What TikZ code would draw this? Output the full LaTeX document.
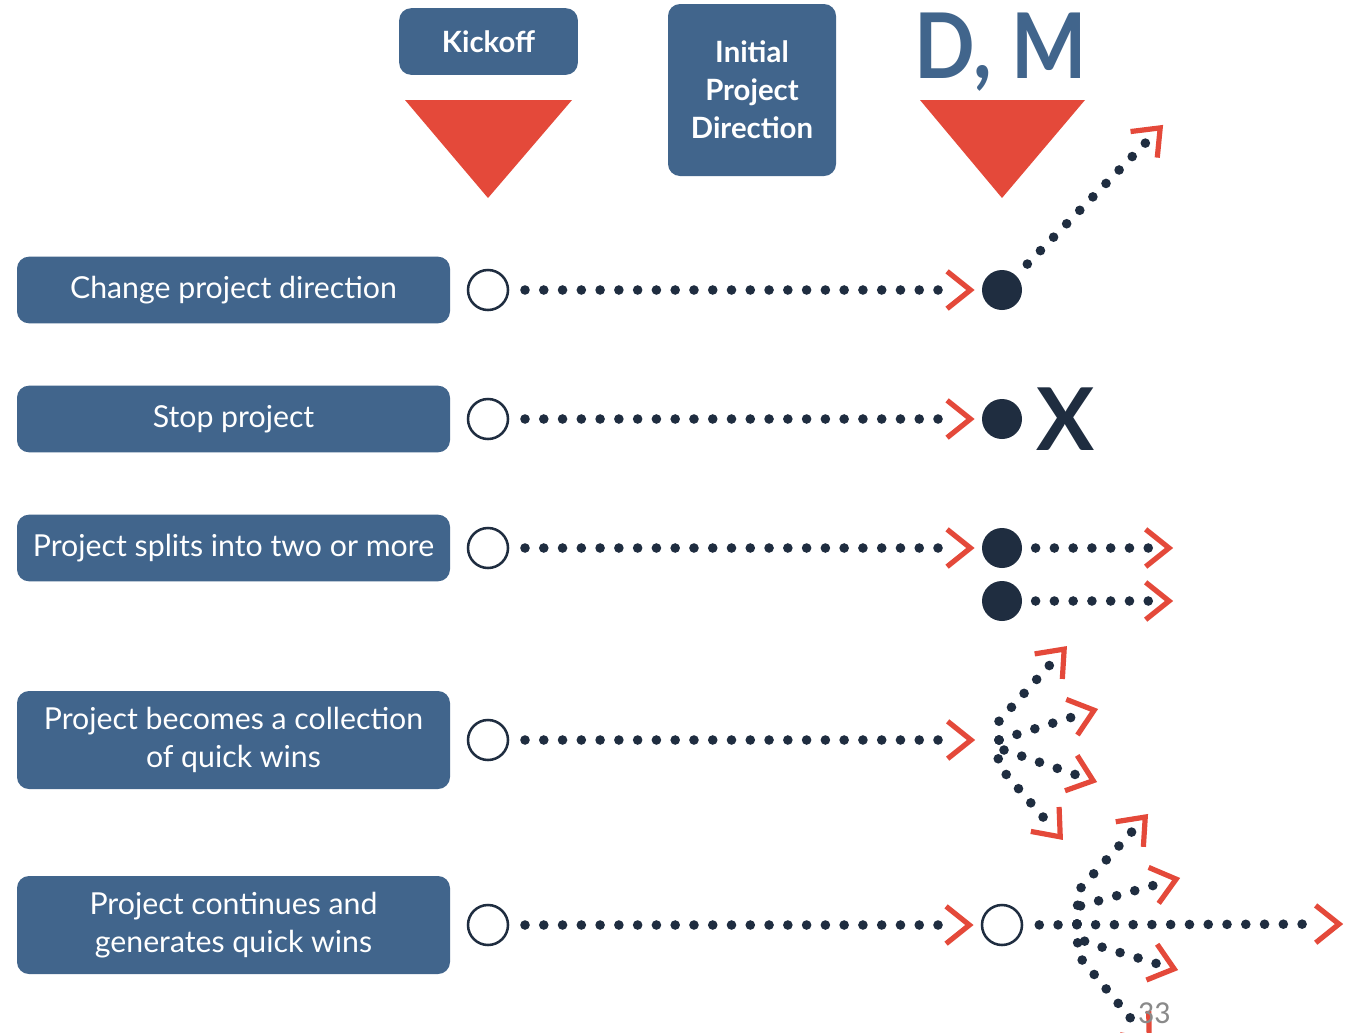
\documentclass[tikz,border=0pt]{standalone}
\usepackage{fontspec}
\setmainfont{Lato}
\newfontfamily\pagefont{Carlito}
\usetikzlibrary{decorations.markings}
\definecolor{boxblue}{HTML}{41658C}
\definecolor{navy}{HTML}{1F2D40}
\definecolor{tred}{HTML}{E4493A}
\definecolor{pagegray}{HTML}{8A8A8A}

\begin{document}
\begin{tikzpicture}[x=0.75pt,y=-0.75pt,
  rowlabel/.style={fill=boxblue, rounded corners=9pt, text=white, align=center,
    minimum width=324.75pt, inner sep=0pt, font=\fontsize{22.7}{28.5}\selectfont},
  headbox/.style={fill=boxblue, rounded corners=9pt, text=white, align=center,
    inner sep=0pt, font=\bfseries\fontsize{22}{28.5}\selectfont},
  hollow/.style={circle, draw=navy, line width=1.9pt, fill=white,
    minimum size=30pt, inner sep=0pt},
  dmdot/.style={circle, fill=navy, minimum size=30pt, inner sep=0pt},
  marker/.style={fill=tred},
  chevron/.style={draw=tred, line width=3.9pt, solid, line cap=butt, line join=miter,
    shorten >=0pt, shorten <=0pt},
  % dotted connector; #1 = gap between path end and chevron tip, #2 = where the dots stop
  flowline/.style 2 args={draw=navy, line width=7.2pt, line cap=round,
    dash pattern=on 0pt off 14.08pt, shorten >=#2,
    postaction={decorate, decoration={markings,
      mark=at position -#1 with {\draw[chevron] (-20.5pt,14pt) -- (-3pt,0pt) -- (-20.5pt,-14pt);}}}},
]
\clip (0,0) rectangle (1345,1032);
\fill[white] (0,0) rectangle (1345,1032);

% column headers
\node[headbox, minimum width=134pt, minimum height=50pt] (kick) at (488.5,41.5) {Kickoff};
\node[headbox, minimum width=126pt, minimum height=129pt] (ipd) at (752,90)
  {Initial\\Project\\Direction};
\node[text=boxblue, font=\bfseries\fontsize{68}{68}\selectfont, inner sep=0pt, anchor=base]
  (dm) at (1001,78) {\scalebox{0.88}[1]{D, M}};
\fill[marker] (405,100) -- (572,100) -- (488,198) -- cycle;
\fill[marker] (920,100) -- (1085,100) -- (1002,198) -- cycle;

% row labels
\node[rowlabel, minimum height=50pt] (lab1) at (233.5,290) {Change project direction};
\node[rowlabel, minimum height=50pt] (lab2) at (233.5,419) {Stop project};
\node[rowlabel, minimum height=50pt] (lab3) at (233.5,548) {Project splits into two or more};
\node[rowlabel, minimum height=73.5pt] (lab4) at (233.5,740) {Project becomes a collection\\of quick wins};
\node[rowlabel, minimum height=73.5pt] (lab5) at (233.5,925) {Project continues and\\generates quick wins};

% kickoff points
\node[hollow] (k1) at (488,290) {};
\node[hollow] (k2) at (488,419) {};
\node[hollow] (k3) at (488,548) {};
\node[hollow] (k4) at (488,740) {};
\node[hollow] (k5) at (488,925) {};

% decision points
\node[dmdot] (d1) at (1002,290) {};
\node[dmdot] (d2) at (1002,419) {};
\node[dmdot] (d3) at (1002,548) {};
\node[dmdot] (d3b) at (1002,601) {};
\coordinate (d4) at (975,740);
\node[hollow] (d5) at (1002,925) {};

% kickoff to decision
\foreach \a/\b in {k1/d1, k2/d2, k3/d3, k5/d5}
  \draw[flowline={5.5pt}{22.5pt}, shorten <=11.8pt] (\a) -- (\b);
\draw[flowline={0.01pt}{17pt}, shorten <=11.8pt] (k4) -- (d4);

% row 1: new direction
\coordinate (e1) at (1163,125);
\draw[flowline={0.01pt}{17pt}, shorten <=12pt] (d1) -- (e1);

% row 2: stop
\node[text=navy, font=\bfseries\fontsize{65}{65}\selectfont, inner sep=0pt] (stop) at (1066,419) {X};

% row 3: split
\coordinate (e3) at (1173,548);
\coordinate (e3b) at (1173,601);
\draw[flowline={0.01pt}{17pt}, shorten <=10pt] (d3) -- (e3);
\draw[flowline={0.01pt}{17pt}, shorten <=10pt] (d3b) -- (e3b);

% row 4: fan of quick wins
\coordinate (o4) at (999,740);
\coordinate (q1) at (1067,646);
\coordinate (q2) at (1098,709);
\coordinate (q3) at (1097,782);
\coordinate (q4) at (1063,840);
\draw[flowline={0.01pt}{17pt}] (o4) -- (999,721) -- (q1);
\draw[flowline={0.01pt}{17pt}] (o4) -- (q2);
\draw[flowline={0.01pt}{17pt}] (1004,750) -- (q3);
\draw[flowline={0.01pt}{17pt}] (o4) -- (998,765) -- (q4);

% row 5: continues, with quick wins along the way
\coordinate (e5) at (1343,924);
\draw[flowline={0.01pt}{17pt}, shorten <=12pt] (d5) -- (e5);
\coordinate (o5) at (1077,924);
\coordinate (w1) at (1148,814);
\coordinate (w2) at (1180,878);
\coordinate (w3) at (1178,970);
\coordinate (w4) at (1152,1044);
\draw[flowline={0.01pt}{17pt}] (o5) -- (1078,891) -- (w1);
\draw[flowline={0.01pt}{17pt}] (o5) -- (1080,906) -- (w2);
\draw[flowline={0.01pt}{17pt}] (o5) -- (1085,942) -- (w3);
\draw[flowline={0.01pt}{17pt}] (o5) -- (1078,955) -- (w4);

% page number
\node[text=pagegray, font=\pagefont\fontsize{24}{24}\selectfont, inner sep=0pt] (page) at (1154,1013) {33};
\end{tikzpicture}
\end{document}
